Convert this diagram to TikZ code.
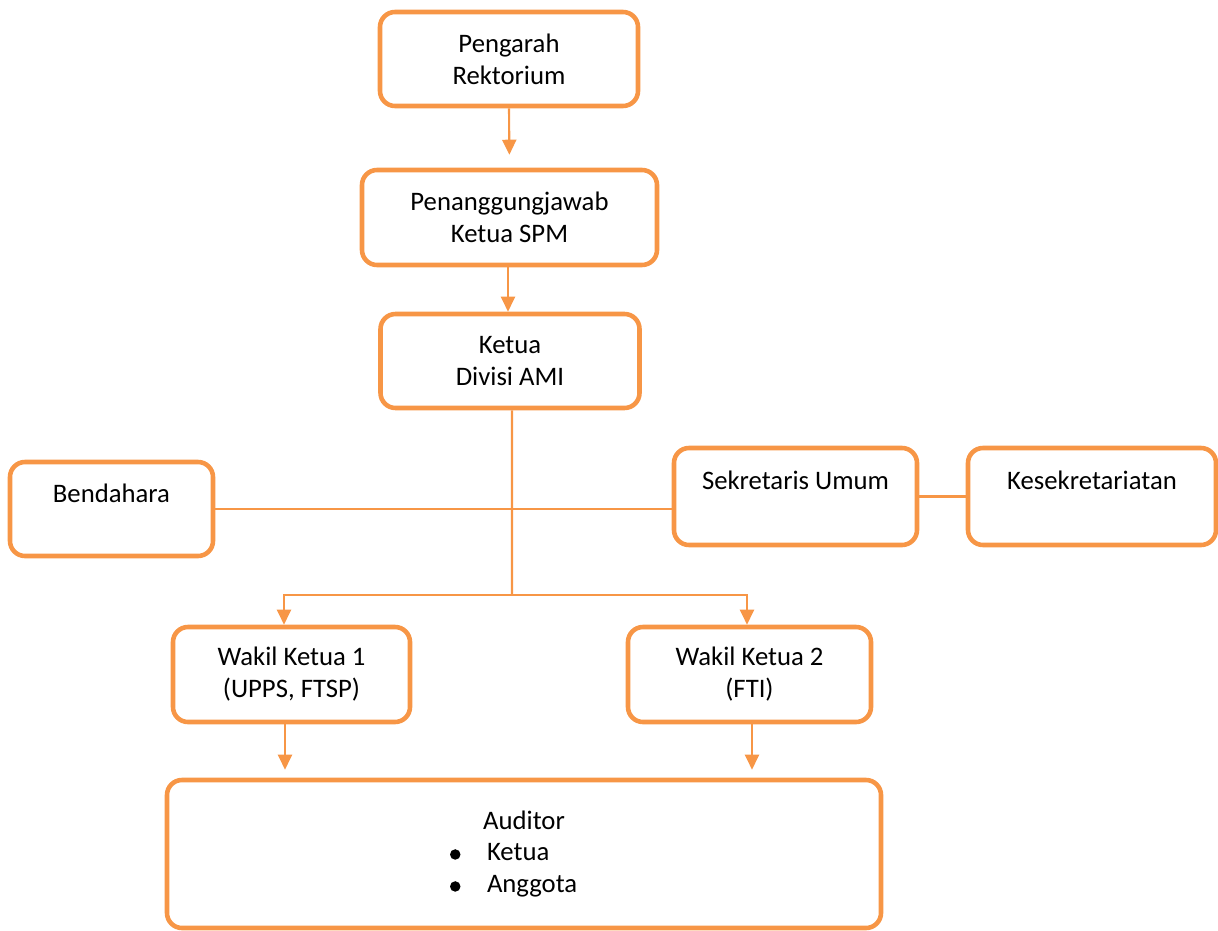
\documentclass[tikz,border=0pt]{standalone}
\usepackage{fontspec}
\setmainfont{Carlito}
\usepackage{tikz}
\usetikzlibrary{arrows.meta, positioning}
\definecolor{amiorange}{RGB}{247, 150, 70}
\newcommand{\amibullet}{\tikz[baseline=-0.13cm]\fill (0,0) circle (0.105cm);}

\begin{document}
\begin{tikzpicture}[
  box/.style={draw=amiorange, line width=2.6pt, rounded corners=0.3cm, align=center,
    font=\fontsize{15.2}{18.2}\selectfont, minimum height=1.88cm},
  link/.style={draw=amiorange, line width=1.2pt},
  arrowlink/.style={link, -{Triangle[width=0.28cm,length=0.3cm]}}
]
\useasboundingbox (0,0) rectangle (24.36,-18.62);

\node[box, minimum width=5.16cm] (pengarah) at (10.18,-1.18) {Pengarah\\Rektorium};
\node[box, minimum width=5.9cm, minimum height=1.9cm] (penanggung) at (10.19,-4.35) {Penanggungjawab\\Ketua SPM};
\node[box, minimum width=5.18cm] (ketua) at (10.2,-7.22) {Ketua\\Divisi AMI};

\node[box, minimum width=4.06cm] (bendahara) at (2.23,-10.18) {Bendahara\\\mbox{}};
\node[box, minimum width=4.86cm, minimum height=1.94cm] (sekretaris) at (15.91,-9.93) {Sekretaris Umum\\\mbox{}};
\node[box, minimum width=4.96cm, minimum height=1.94cm] (kesek) at (21.84,-9.93) {Kesekretariatan\\\mbox{}};

\node[box, minimum width=4.74cm, minimum height=1.9cm] (wakil1) at (5.83,-13.49) {Wakil Ketua 1\\(UPPS, FTSP)};
\node[box, minimum width=4.86cm, minimum height=1.9cm] (wakil2) at (14.99,-13.49) {Wakil Ketua 2\\(FTI)};

\node[box, minimum width=14.28cm, minimum height=2.96cm] (auditor) at (10.48,-17.08)
  {Auditor\\\makebox[2.96cm][l]{\amibullet\hspace{0.53cm}Ketua}\\\makebox[2.96cm][l]{\amibullet\hspace{0.53cm}Anggota}};

% connectors
\coordinate (split) at (10.24,-11.9);
\draw[arrowlink, shorten >=0.26cm] (pengarah.south) -- (penanggung.north);
\draw[arrowlink] ([xshift=-0.03cm]penanggung.south) -- ([xshift=-0.03cm]penanggung.south |- ketua.north);
\draw[link] ([xshift=0.04cm]ketua.south) -- (split);
\draw[arrowlink] (split) -| ([xshift=-0.15cm]wakil1.north);
\draw[arrowlink] (split) -| ([xshift=-0.05cm]wakil2.north);
\draw[link] (bendahara.east) -- (bendahara.east -| sekretaris.west);
\draw[link] (sekretaris.east) -- (kesek.west);
\draw[arrowlink, shorten >=0.16cm] ([xshift=-0.13cm]wakil1.south) -- ([xshift=-0.13cm]wakil1.south |- auditor.north);
\draw[arrowlink, shorten >=0.16cm] ([xshift=0.05cm]wakil2.south) -- ([xshift=0.05cm]wakil2.south |- auditor.north);
\end{tikzpicture}
\end{document}
